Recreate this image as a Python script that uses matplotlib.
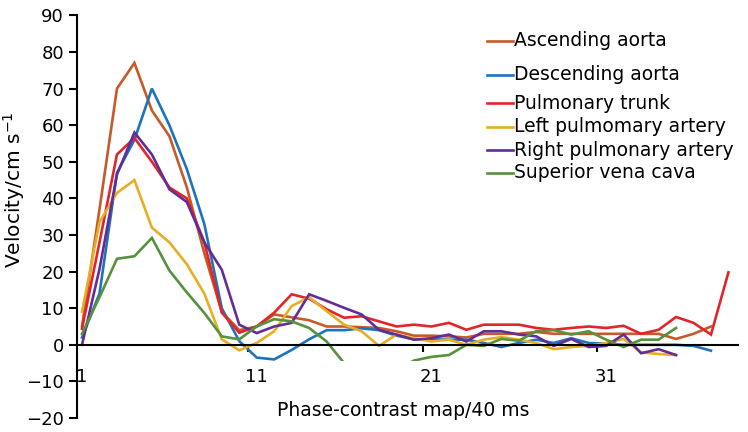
import matplotlib
matplotlib.use("Agg")
import matplotlib.pyplot as plt
from matplotlib.lines import Line2D
from matplotlib.patches import Rectangle

# phase index 1..N, velocity in cm/s
asc_aorta = [5, 37, 70, 77, 64, 57, 43, 25, 9, 4, 5, 8.3, 7.5, 6.7, 5, 5, 4.8, 4.6, 3.7,
             2.5, 2.5, 2.3, 2, 3, 3, 3, 3.5, 3, 3, 3, 3, 3, 3, 3, 1.6, 3, 5]
desc_aorta = [2, 14, 47, 56, 70, 60, 48, 33, 10, 1, -3.5, -4, -1.4, 1.5, 4, 4, 4.5, 4, 2.5,
              1.5, 1.5, 1.4, 1.4, 0.5, -0.6, 0.5, 1.4, 0.5, 1.8, 0.5, 0.3, 0, 0, 0, 0, -0.3, -1.6]
pulm_trunk = [4.4, 28, 52, 56.5, 50, 43, 40, 28, 8.8, 3.3, 5, 8.8, 13.8, 12.6, 9.7, 7.4, 7.8,
              6.4, 5, 5.5, 5, 6, 4.1, 5.5, 5.5, 5.5, 4.6, 4.1, 4.6, 5, 4.6, 5.2, 3, 4.1, 7.6,
              6, 2.8, 19.8]
left_pa = [9, 33.5, 41.5, 45, 32, 28, 22, 14, 1.5, -1.5, 0.5, 3.7, 10.6, 13, 9.2, 5.5, 3.7,
           -0.3, 2.8, 1.8, 0.9, 1.4, 0, 1.4, 2.1, 1.4, 0.5, -1.2, -0.6, -0.3, 0.5, 1.6, -2.1,
           -2.5, -2.8]
right_pa = [0, 20.7, 46.5, 58, 52, 42.5, 39, 28, 20.5, 5.5, 3.2, 5, 6, 13.8, 12, 10.1, 8.3,
            4.1, 2.8, 1.4, 1.8, 2.8, 0.9, 3.7, 3.7, 2.8, 2.3, -0.3, 1.6, -0.6, -0.3, 2.8,
            -2.3, -1.2, -2.8]
svc = [3, 13, 23.5, 24.2, 29.2, 20.3, 14.3, 8.7, 2.3, 1.5, 5, 7, 6.4, 4.6, 0.9, -5, -7, -8,
       -7, -4.3, -3.3, -2.8, 0, -0.3, 1.6, 1.1, 3.7, 4, 2.8, 3.7, 1.4, -0.6, 1.4, 1.4, 4.6]

names = ["Ascending aorta", "Descending aorta", "Pulmonary trunk",
         "Left pulmomary artery", "Right pulmonary artery", "Superior vena cava"]
colors = ["#C65A28", "#1E73BE", "#E2252B", "#E6AF23", "#642D96", "#56923C"]
series = [asc_aorta, desc_aorta, pulm_trunk, left_pa, right_pa, svc]

xtick_labels = ["1", "11", "21", "31"]
yticks = list(range(-20, 91, 10))

fig = plt.figure(figsize=(7.48, 4.32), dpi=100)
ax = fig.add_axes([0.1023, 0.0324, 0.8844, 0.932])

# lines are hidden below about -4.4 in the original
clip = Rectangle((0, -4.4), 100, 200, transform=ax.transData)
for vals, c in zip(series, colors):
    xs = list(range(1, len(vals) + 1))
    ln, = ax.plot(xs, vals, color=c, lw=1.9, solid_joinstyle="miter")
    ln.set_clip_path(clip)

ax.set_xlim(0.685, 38.55)
ax.set_ylim(-20, 90)

for s in ["top", "right"]:
    ax.spines[s].set_visible(False)
ax.spines["left"].set_linewidth(1.5)
ax.spines["bottom"].set_linewidth(1.5)
ax.spines["bottom"].set_position(("data", 0))

ax.set_yticks(yticks)
ax.tick_params(axis="y", direction="out", length=6, width=1.5, labelsize=13, pad=3)
ax.set_xticks([1, 11, 21, 31])
ax.set_xticklabels(xtick_labels)
ax.set_xticks([10.5, 20.5, 30.5], minor=True)
ax.tick_params(axis="x", which="major", length=0, labelsize=13, pad=17)
ax.tick_params(axis="x", which="minor", direction="out", length=5, width=1.5)

fig.text(403 / 748, 1 - 410 / 432, "Phase-contrast map/40 ms", fontsize=13.5,
         ha="center", va="center")
fig.text(14 / 748, 1 - 190 / 432, r"Velocity/cm s$^{\mathregular{-1}}$", fontsize=14.5,
         rotation=90, ha="center", va="center")

# legend drawn by hand, rows are not evenly spaced in the original
rows_y = [40.7, 75, 103.3, 126.7, 150, 172.7]
for nm, c, ry in zip(names, colors, rows_y):
    fy = 1 - ry / 432
    fig.add_artist(Line2D([487 / 748, 513 / 748], [fy, fy], color=c, lw=1.9))
    fig.text(514 / 748, fy, nm, fontsize=13.5, ha="left", va="center")

fig.savefig("out.png", dpi=100)
